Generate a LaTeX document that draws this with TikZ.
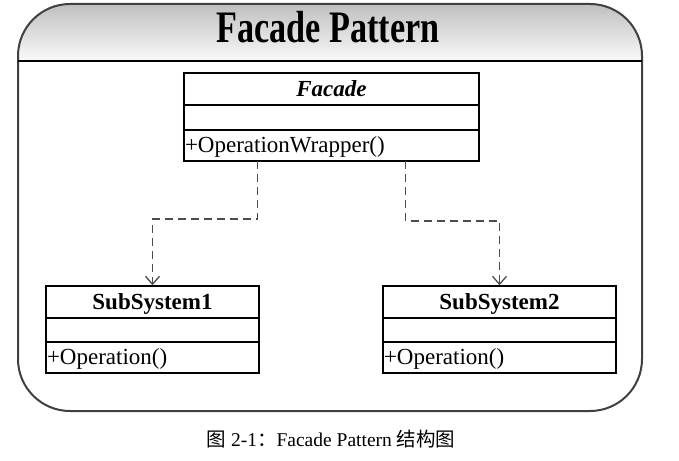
\documentclass[tikz,border=0pt]{standalone}
\usepackage{graphicx}
\usepackage{fontspec}
\setmainfont{Liberation Serif}
\newfontfamily\cjk{Noto Sans CJK SC}
\usetikzlibrary{arrows.meta}
\tikzset{
  frameline/.style={draw=black!75, line width=2pt},
  headline/.style={draw=black, line width=1.6pt},
  row/.style={draw=black, line width=1.5pt, rectangle, inner xsep=1pt, inner ysep=0pt,
              font=\fontsize{23}{23}\selectfont},
  titlerow/.style={row, text height=23.5pt, text depth=8.5pt, font=\fontsize{23}{23}\selectfont\bfseries},
  oprow/.style={row, text height=22.5pt, text depth=8.5pt, align=left},
  deparrow/.style={draw=black!70, line width=1.7pt, dash pattern=on 8pt off 5pt,
                   -{Straight Barb[length=8pt,width=14pt,line width=1.3pt]}}
}
\begin{document}
\begin{tikzpicture}[x=1pt,y=-1pt]
\useasboundingbox (0,0) rectangle (679,460);
% header shading
\begin{scope}
  \clip[rounded corners=52pt] (18,4) rectangle (642,411);
  \fill[top color=black!25, bottom color=black!2] (18,4) rectangle (642,61);
\end{scope}
\draw[frameline, rounded corners=52pt] (18,4) rectangle (642,411);
\draw[headline] (18,61) -- (642,61);
\node[anchor=base, font=\fontsize{45}{45}\selectfont\bfseries] (title) at (328,43)
  {\scalebox{0.76}[1]{Facade Pattern}};

% Facade class
\node[titlerow, minimum width=295pt, minimum height=32pt] (fT) at (331.5,89)
  {\itshape Facade};
\node[row, minimum width=295pt, minimum height=25pt] (fA) at (331.5,117.5) {};
\node[oprow, minimum width=295pt, text width=293pt, minimum height=31pt] (fO) at (331.5,145.5)
  {+OperationWrapper()};

% SubSystem1
\node[titlerow, minimum width=213pt, minimum height=32pt] (s1T) at (152.5,302) {SubSystem1};
\node[row, minimum width=213pt, minimum height=24pt] (s1A) at (152.5,330) {};
\node[oprow, minimum width=213pt, text width=211pt, minimum height=31pt] (s1O) at (152.5,357.5)
  {+Operation()};

% SubSystem2
\node[titlerow, minimum width=233pt, minimum height=32pt] (s2T) at (499.5,302) {SubSystem2};
\node[row, minimum width=233pt, minimum height=24pt] (s2A) at (499.5,330) {};
\node[oprow, minimum width=233pt, text width=231pt, minimum height=31pt] (s2O) at (499.5,357.5)
  {+Operation()};

% connectors
\coordinate (c1) at (257.5,161);
\coordinate (c2) at (405.5,161);
\draw[deparrow] (c1) -- ++(0,58) -| (s1T.north);
\draw[deparrow] (c2) -- ++(0,60) -| (s2T.north);

% caption
\node[anchor=base, font=\fontsize{19.5}{19.5}\selectfont] (cap) at (331,446)
  {{\cjk 图} 2-1{\cjk ：}Facade Pattern {\cjk 结构图}};
\end{tikzpicture}
\end{document}
